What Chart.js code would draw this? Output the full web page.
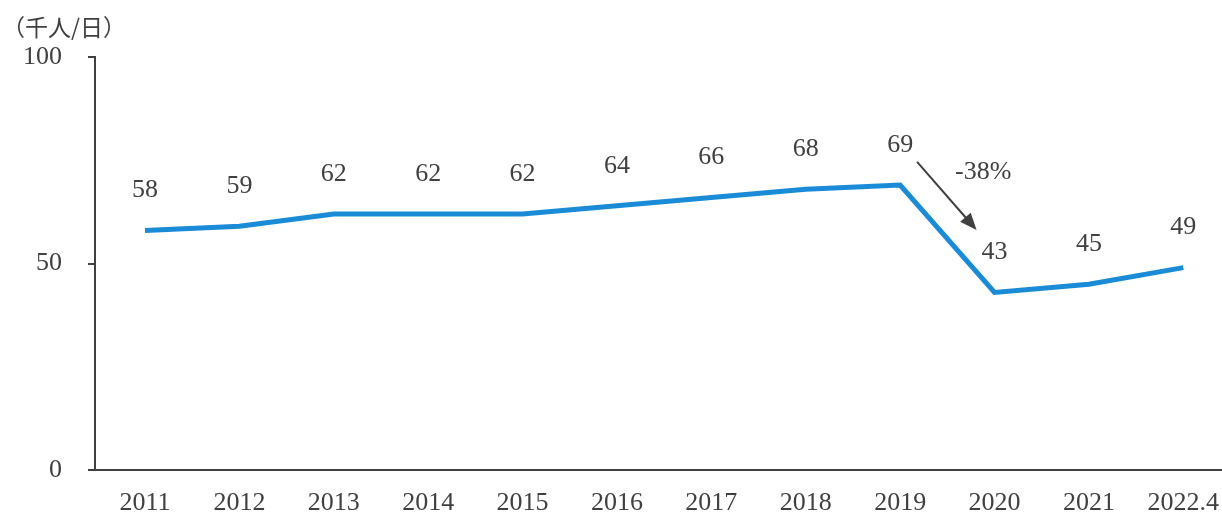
<!DOCTYPE html>
<html>
<head>
<meta charset="utf-8">
<script src="https://cdn.jsdelivr.net/npm/chart.js@4"></script>
<style>
  html, body { margin: 0; padding: 0; background: #fff; }
  #wrap { position: relative; width: 1222px; height: 517px; }
</style>
</head>
<body>
<div id="wrap"><canvas id="chart"></canvas></div>
<script>
const years = ["2011", "2012", "2013", "2014", "2015", "2016", "2017", "2018", "2019", "2020", "2021", "2022.4"];
const riders = [58, 59, 62, 62, 62, 64, 66, 68, 69, 43, 45, 49];
const yTicks = [0, 50, 100];
const unitLabel = "（千人/日）";
const dropLabel = "-38%";

const textColor = "#404040";
const serif = "'Liberation Serif', 'DejaVu Serif', 'Noto Sans CJK JP', serif";

// value labels above each point, plus unit caption and the drop arrow
const annotations = {
  id: "annotations",
  afterDatasetsDraw(chart) {
    const c = chart.ctx;
    const xs = chart.scales.x, ys = chart.scales.y;
    c.save();
    c.fillStyle = textColor;
    c.font = "26px " + serif;
    c.textAlign = "center";
    c.textBaseline = "middle";
    chart.getDatasetMeta(0).data.forEach((pt, i) => {
      c.fillText(String(riders[i]), pt.x, pt.y - 40);
    });

    // unit caption
    c.font = "23px 'Noto Sans CJK JP', " + serif;
    c.textAlign = "left";
    c.fillText(unitLabel, 2, 27);

    // arrow 2019 -> 2020
    const x1 = xs.getPixelForValue(8.18), y1 = ys.getPixelForValue(74.6);
    const x2 = xs.getPixelForValue(8.81), y2 = ys.getPixelForValue(58.1);
    const ang = Math.atan2(y2 - y1, x2 - x1);
    c.strokeStyle = textColor;
    c.lineWidth = 2;
    c.beginPath();
    c.moveTo(x1, y1);
    c.lineTo(x2 - 12 * Math.cos(ang), y2 - 12 * Math.sin(ang));
    c.stroke();
    c.beginPath();
    c.moveTo(x2, y2);
    c.lineTo(x2 - 17 * Math.cos(ang) + 7 * Math.sin(ang), y2 - 17 * Math.sin(ang) - 7 * Math.cos(ang));
    c.lineTo(x2 - 17 * Math.cos(ang) - 7 * Math.sin(ang), y2 - 17 * Math.sin(ang) + 7 * Math.cos(ang));
    c.closePath();
    c.fill();

    c.font = "26px " + serif;
    c.textAlign = "center";
    c.fillText(dropLabel, xs.getPixelForValue(8.88), ys.getPixelForValue(72.2));
    c.restore();
  }
};

new Chart(document.getElementById("chart"), {
  type: "line",
  data: {
    datasets: [{
      data: riders.map((v, i) => ({ x: i, y: v })),
      borderColor: "#1a8bd6",
      borderWidth: 5,
      pointRadius: 0,
      tension: 0,
      fill: false
    }]
  },
  options: {
    responsive: true,
    maintainAspectRatio: false,
    animation: false,
    layout: { padding: { top: 57, right: 0, left: 0, bottom: 0 } },
    plugins: { legend: { display: false }, tooltip: { enabled: false } },
    scales: {
      x: {
        type: "linear",
        min: -0.53,
        max: 11.41,
        afterBuildTicks: s => { s.ticks = years.map((_, i) => ({ value: i })); },
        afterFit: s => { s.height = 47; s.paddingLeft = 0; s.paddingRight = 0; },
        grid: { display: false, drawTicks: false },
        border: { display: true, color: textColor, width: 2 },
        ticks: {
          callback: v => years[v],
          color: textColor,
          font: { family: serif, size: 26 },
          padding: 18,
          maxRotation: 0,
          autoSkip: false
        }
      },
      y: {
        min: 0,
        max: 100,
        afterBuildTicks: s => { s.ticks = yTicks.map(v => ({ value: v })); },
        afterFit: s => { s.width = 95; },
        grid: { drawOnChartArea: false, tickLength: 7, color: textColor, lineWidth: 2 },
        border: { display: true, color: textColor, width: 2 },
        ticks: {
          color: textColor,
          font: { family: serif, size: 26 },
          padding: 26
        }
      }
    }
  },
  plugins: [annotations]
});
</script>
</body>
</html>
